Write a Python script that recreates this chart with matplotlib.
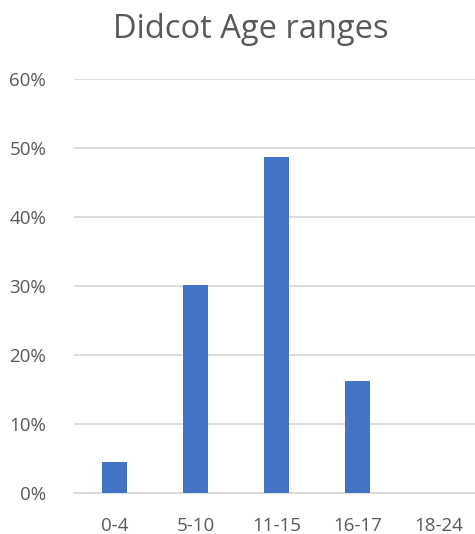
import numpy as np
import matplotlib.pyplot as plt
from matplotlib.ticker import PercentFormatter

categories = ['0-4', '5-10', '11-15', '16-17', '18-24']
values = [0.045, 0.301, 0.487, 0.162, 0.0]

plt.rcParams['font.family'] = ['Open Sans', 'DejaVu Sans']

fig = plt.figure(figsize=(4.75, 5.34), dpi=100)
ax = fig.add_axes([74/475, 1-493/534, 1-74/475, (493-79)/534])

x = np.arange(len(categories))
ax.bar(x, values, width=0.32, color='#4472c4', zorder=3)

ax.set_xlim(-0.5, 4.45)
ax.set_ylim(0, 0.6)
ax.set_yticks(np.arange(0, 0.61, 0.1))
ax.yaxis.set_major_formatter(PercentFormatter(1.0, decimals=0))
ax.set_xticks(x)
ax.set_xticklabels(categories)
ax.grid(axis='y', color='#d9d9d9', linewidth=1.3, zorder=0)
for s in ['top', 'right', 'left']:
    ax.spines[s].set_visible(False)
ax.spines['bottom'].set_color('#d9d9d9')
ax.spines['bottom'].set_linewidth(1.3)
ax.tick_params(axis='both', length=0, labelsize=13.5, labelcolor='#595959')
ax.tick_params(axis='y', pad=20)
ax.tick_params(axis='x', pad=17)

fig.text(0.527, 0.945, 'Didcot Age ranges', ha='center', va='center',
         fontsize=23.5, color='#595959')

fig.savefig('out.png', dpi=100)
